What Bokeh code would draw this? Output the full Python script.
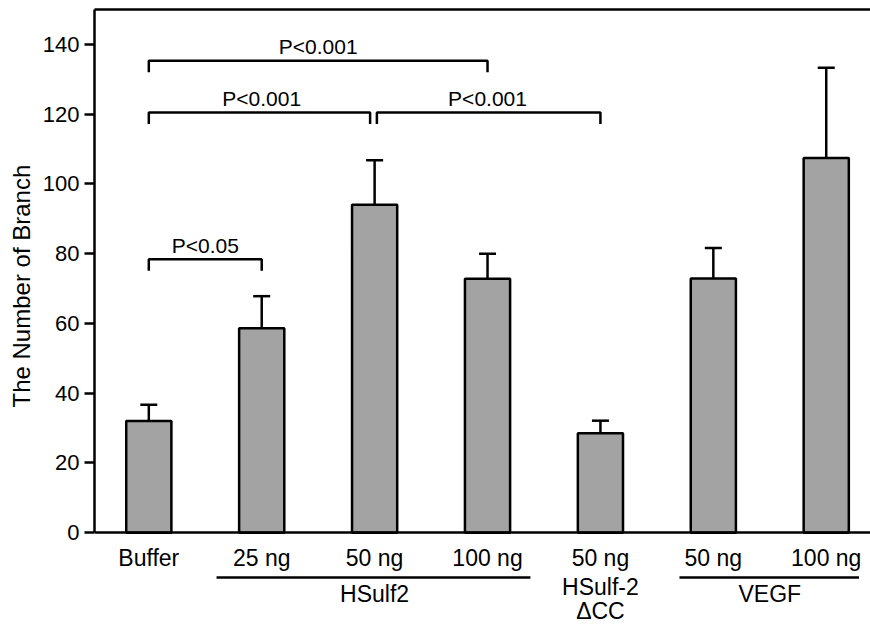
import numpy as np
from bokeh.plotting import figure
from bokeh.models import (Range1d, LinearAxis, FixedTicker, Title,
                          Whisker, ColumnDataSource, TeeHead)
from bokeh.core.properties import value
from bokeh.embed import file_html
from bokeh.resources import INLINE

# ---------------- data ----------------
categories = ["Buffer", "25 ng", "50 ng", "100 ng", "50 ng", "50 ng", "100 ng"]
branch_mean = [32.0, 58.6, 94.0, 72.8, 28.5, 72.9, 107.4]
branch_err = [4.7, 9.2, 12.8, 7.2, 3.6, 8.7, 25.9]
group_names = ["HSulf2", "VEGF"]
group_first = [1, 5]
group_last = [3, 6]
single_sub_index = 4
single_sub_labels = ["HSulf-2", "\u0394CC"]
bracket_from = [0, 0, 2, 0]
bracket_to = [1, 2, 4, 3]
bracket_y = [78.4, 120.5, 120.5, 135.3]
bracket_text = ["P<0.05", "P<0.001", "P<0.001", "P<0.001"]
y_ticks = [0, 20, 40, 60, 80, 100, 120, 140]
y_title = "The Number of Branch"

FONT = "Liberation Sans"
LW = 2.5
CAT_FS = "23px"

xpos = list(range(len(categories)))
upper = [m + e for m, e in zip(branch_mean, branch_err)]

p = figure(width=870, height=625,
           x_range=Range1d(-0.481, 6.392), y_range=Range1d(-26.63, 150),
           output_backend="svg", toolbar_location=None,
           min_border_left=94, min_border_right=0, min_border_top=9, min_border_bottom=0,
           outline_line_color=None, background_fill_color="white", border_fill_color="white")
p.grid.visible = False

# bars
src = ColumnDataSource(dict(x=xpos, top=branch_mean, upper=upper))
p.vbar(x="x", top="top", bottom=0, width=0.4, source=src,
       fill_color="#a3a3a3", line_color="black", line_width=LW)

# error bars (upper only)
wh = Whisker(base="x", lower="top", upper="upper", source=src, dimension="height",
             lower_head=None,
             upper_head=TeeHead(size=17, line_width=LW, line_color="black"),
             line_width=LW, line_color="black", level="glyph")
p.add_layout(wh)

# significance brackets
drop = 3.3
gap = 0.03
xs, ys, tx, ty = [], [], [], []
for i, (a, b, yv) in enumerate(zip(bracket_from, bracket_to, bracket_y)):
    l, r = float(a), float(b)
    for j, (a2, b2, y2) in enumerate(zip(bracket_from, bracket_to, bracket_y)):
        if j != i and y2 == yv:
            if a2 == b:
                r -= gap + 0.01
            if b2 == a:
                l += gap - 0.01
    xs.append([l, l, r, r])
    ys.append([yv - drop, yv, yv, yv - drop])
    tx.append((a + b) / 2)
    ty.append(yv + 4.0)
p.multi_line(xs=xs, ys=ys, line_color="black", line_width=LW)
p.text(x=tx, y=ty, text=bracket_text, text_align="center", text_baseline="alphabetic",
       text_font=value(FONT), text_font_size="21px", text_color="black")

# x axis sits at y = 0 inside the frame; the grouping rows sit beneath it
xa = p.xaxis[0]
xa.fixed_location = 0
xa.ticker = FixedTicker(ticks=xpos)
xa.major_label_overrides = {i: c for i, c in enumerate(categories)}
xa.major_tick_line_color = None
xa.major_tick_out = 0
xa.major_tick_in = 0
xa.minor_tick_line_color = None
xa.axis_line_width = LW
xa.axis_line_color = "black"
xa.major_label_standoff = 12
xa.major_label_text_font = FONT
xa.major_label_text_font_size = CAT_FS
xa.major_label_text_color = "black"

ya = p.yaxis[0]
ya.bounds = (0, 150)
ya.ticker = FixedTicker(ticks=y_ticks)
ya.major_tick_out = 10
ya.major_tick_in = 0
ya.major_tick_line_width = LW
ya.major_tick_line_color = "black"
ya.minor_tick_line_color = None
ya.axis_line_width = LW
ya.axis_line_color = "black"
ya.major_label_standoff = 5
ya.major_label_text_font = FONT
ya.major_label_text_font_size = "22px"
ya.major_label_text_color = "black"

top_axis = LinearAxis(ticker=FixedTicker(ticks=[]), axis_line_width=LW, axis_line_color="black",
                      major_tick_out=0, major_tick_in=0, minor_tick_out=0, minor_tick_in=0,
                      major_label_standoff=0, major_label_text_font_size="0px")
p.add_layout(top_axis, "above")

# y title (vertical, on the left)
p.add_layout(Title(text=y_title, align="left", offset=218, vertical_align="bottom",
                   standoff=10, text_font=FONT, text_font_size="24px",
                   text_font_style="normal", text_color="black"), "left")

# grouping rows beneath the category labels
pads = [(0.4, 0.38), (0.3, 0.29)]
gx0 = [a - pl for a, (pl, pr) in zip(group_first, pads)]
gx1 = [b + pr for b, (pl, pr) in zip(group_last, pads)]
p.segment(x0=gx0, y0=[-12.87] * len(gx0), x1=gx1, y1=[-12.87] * len(gx0),
          line_color="black", line_width=LW)
gmid = [(a + b) / 2 for a, b in zip(group_first, group_last)]
p.text(x=gmid, y=[-17.46] * len(gmid), text=group_names, text_align="center",
       text_baseline="alphabetic", text_font=value(FONT), text_font_size=CAT_FS,
       text_color="black")
p.text(x=[single_sub_index] * len(single_sub_labels),
       y=[-15.5 - 7.0 * k for k in range(len(single_sub_labels))],
       text=single_sub_labels, text_align="center", text_baseline="alphabetic",
       text_font=value(FONT), text_font_size=CAT_FS, text_color="black")

open("out.html", "w").write(file_html(p, INLINE))
